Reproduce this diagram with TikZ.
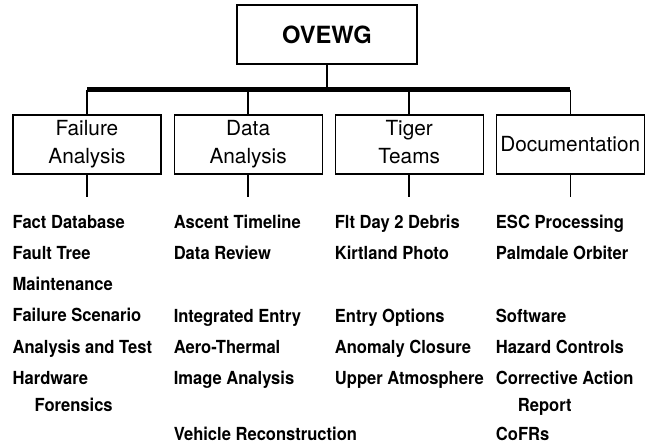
\documentclass[tikz,border=0pt]{standalone}
\usepackage{fontspec}
\setmainfont{TeX Gyre Heros}
\newfontfamily\itemfont{TeX Gyre Heros}[FakeStretch=0.92]
\usetikzlibrary{positioning}

\begin{document}
\begin{tikzpicture}[
    x=1pt, y=1pt,
    headbox/.style={
        draw,
        line width=1.2pt,
        minimum width=180pt,
        minimum height=59pt,
        font=\fontsize{23.7}{28}\selectfont\bfseries
    },
    groupbox/.style={
        draw,
        line width=1.1pt,
        minimum width=148pt,
        minimum height=59pt,
        align=center,
        inner sep=1pt,
        font=\fontsize{20.8}{28}\selectfont
    },
    itemlist/.style={
        align=left,
        inner xsep=0pt,
        inner ysep=18.5pt,
        font=\itemfont\fontsize{18}{31.2}\selectfont\bfseries
    },
    stem/.style={line width=1.6pt},
    bus/.style={line width=5pt}
]
\useasboundingbox (0,0) rectangle (649,-444);

% === OVEWG ===
\node[headbox] (ovewg) at (327,-34.5) {OVEWG};

% === Groups ===
\node[groupbox] (fail) at (87,-144.5) {Failure\\Analysis};
\node[groupbox, right=12pt of fail] (data) {Data\\Analysis};
\node[groupbox, right=12pt of data] (tiger) {Tiger\\Teams\vphantom{y}};
\node[groupbox, right=12pt of tiger] (docs) {Documentation};

% === Bus ===
\coordinate (busy) at (0,-90);
\draw[stem] (ovewg.south) -- (ovewg.south |- busy);
\draw[bus] (fail.north |- busy) -- (docs.north |- busy);
\draw[stem] (fail.north |- busy) -- (fail.north);
\draw[stem] (data.north |- busy) -- (data.north);
\draw[stem] (tiger.north |- busy) -- (tiger.north);
\draw[stem] (docs.north |- busy) -- (docs.north);

% === Items ===
\node[itemlist, below=22pt of fail.south west, anchor=north west] (faillist) {
Fact Database\\
Fault Tree\\
Maintenance\\
Failure Scenario\\
Analysis and Test\\
Hardware\\[-4.2pt]
\hspace*{22pt}Forensics
};
\node[itemlist, below=22pt of data.south west, anchor=north west] (datalist) {
Ascent Timeline\\
Data Review\\
\mbox{}\\
Integrated Entry\\
Aero-Thermal\\
Image Analysis\\[-4.2pt]
\mbox{}\\[-2.8pt]
Vehicle Reconstruction
};
\node[itemlist, below=22pt of tiger.south west, anchor=north west] (tigerlist) {
Flt Day 2 Debris\\
Kirtland Photo\\
\mbox{}\\
Entry Options\\
Anomaly Closure\\
Upper Atmosphere
};
\node[itemlist, below=22pt of docs.south west, anchor=north west] (docslist) {
ESC Processing\\
Palmdale Orbiter\\
\mbox{}\\
Software\\
Hazard Controls\\
Corrective Action\\[-4.2pt]
\hspace*{22pt}Report\\[-2.8pt]
CoFRs
};

\draw[stem] (fail.south) -- (fail.south |- faillist.north);
\draw[stem] (data.south) -- (data.south |- datalist.north);
\draw[stem] (tiger.south) -- (tiger.south |- tigerlist.north);
\draw[stem] (docs.south) -- (docs.south |- docslist.north);

\end{tikzpicture}
\end{document}
